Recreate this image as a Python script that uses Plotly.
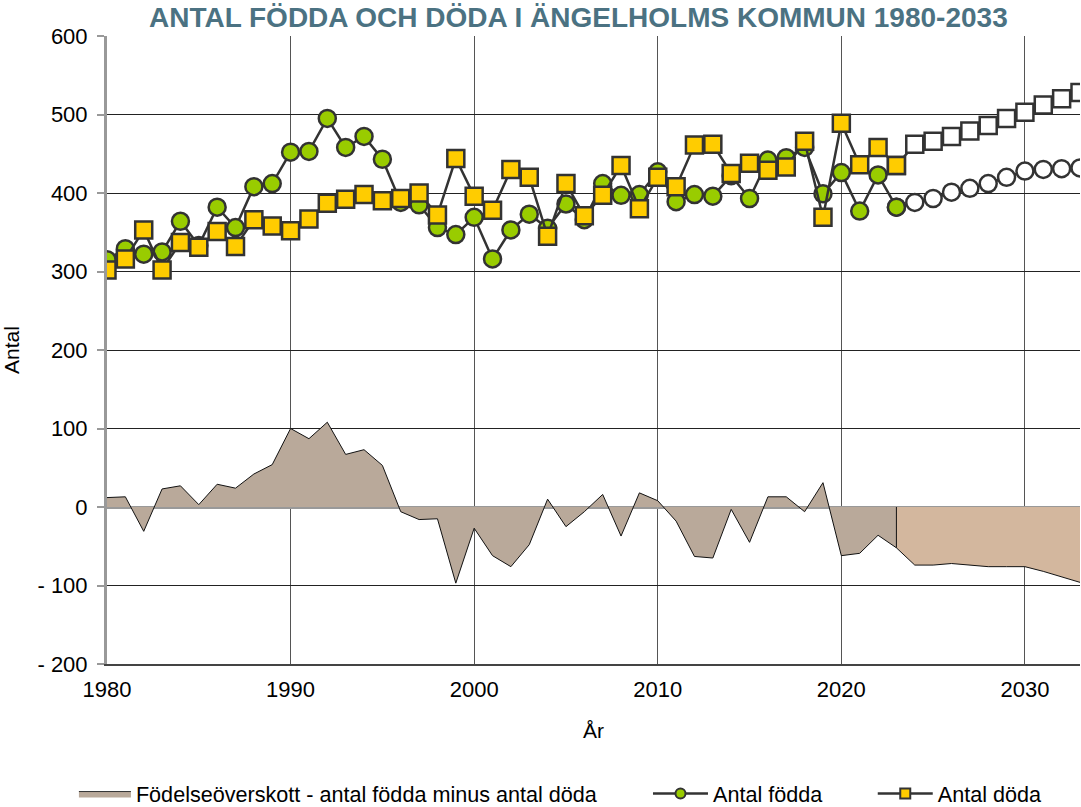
import plotly.graph_objects as go

years_hist = list(range(1980, 2024))
born_hist = [315, 329, 322, 325, 364, 333, 382, 356, 408, 412,
             452, 453, 495, 458, 472, 443, 388, 385, 356, 347,
             369, 316, 353, 373, 355, 386, 366, 412, 397, 398,
             427, 389, 398, 396, 422, 393, 442, 445, 458, 399,
             426, 377, 423, 382]
deaths_hist = [302, 316, 353, 302, 337, 331, 351, 332, 366, 358,
               352, 367, 387, 392, 398, 390, 393, 400, 372, 444,
               396, 378, 430, 420, 345, 412, 371, 397, 435, 380,
               420, 408, 461, 462, 425, 438, 429, 433, 466, 369,
               489, 436, 458, 435]
surplus_hist = [12, 13, -31, 23, 27, 3, 29, 24, 42, 54,
                100, 87, 108, 67, 73, 53, -6, -16, -15, -97,
                -27, -62, -76, -48, 10, -25, -6, 16, -37, 18,
                8, -18, -63, -65, -3, -45, 13, 13, -6, 31,
                -62, -59, -36, -52]

years_fc = list(range(2024, 2034))
born_fc = [388, 393, 401, 406, 412, 420, 428, 430, 431, 432]
deaths_fc = [462, 466, 472, 479, 486, 495, 503, 512, 520, 528]
surplus_fc = [-74, -74, -72, -74, -76, -76, -76, -82, -89, -96]

y_ticks = [-200, -100, 0, 100, 200, 300, 400, 500, 600]
y_ticktext = ["- 200", "- 100", "0", "100", "200", "300", "400", "500", "600"]
x_ticks = [1980, 1990, 2000, 2010, 2020, 2030]

title_text = "ANTAL FÖDDA OCH DÖDA I ÄNGELHOLMS KOMMUN 1980-2033"
name_surplus = "Födelseöverskott - antal födda minus antal döda"
name_born = "Antal födda"
name_deaths = "Antal döda"

FONT = "Liberation Sans, Arial, sans-serif"
FS = 21
FS_TICK = 22
FS_LEG = 21.6
LINE = "#333333"
AREA_HIST = "#B9A99A"
AREA_FC = "#D3B79E"
GREEN = "#99CC00"
YELLOW = "#FFCC00"

fig = go.Figure()

# historical surplus area
fig.add_trace(go.Scatter(
    x=years_hist, y=surplus_hist, mode="lines", fill="tozeroy",
    fillcolor=AREA_HIST, line=dict(color="#111111", width=1),
    name=name_surplus, showlegend=False))

# forecast surplus area (starts at last historical year)
fig.add_trace(go.Scatter(
    x=[years_hist[-1], years_hist[-1]] + years_fc,
    y=[0, surplus_hist[-1]] + surplus_fc,
    mode="lines", fill="tozeroy",
    fillcolor=AREA_FC, line=dict(color="#111111", width=1),
    showlegend=False, hoverinfo="skip"))

# forecast born / deaths (white markers)
fig.add_trace(go.Scatter(
    x=[years_hist[-1]] + years_fc, y=[born_hist[-1]] + born_fc,
    mode="lines+markers", line=dict(color=LINE, width=2.5),
    marker=dict(symbol="circle", size=17, color="white",
                line=dict(color=LINE, width=2.5)),
    showlegend=False))
fig.add_trace(go.Scatter(
    x=[years_hist[-1]] + years_fc, y=[deaths_hist[-1]] + deaths_fc,
    mode="lines+markers", line=dict(color=LINE, width=2.5),
    marker=dict(symbol="square", size=17, color="white",
                line=dict(color=LINE, width=2.5)),
    showlegend=False))

# historical born
fig.add_trace(go.Scatter(
    x=years_hist, y=born_hist, mode="lines+markers",
    line=dict(color=LINE, width=2.5),
    marker=dict(symbol="circle", size=17, color=GREEN,
                line=dict(color=LINE, width=2.5)),
    name=name_born, showlegend=False))

# historical deaths
fig.add_trace(go.Scatter(
    x=years_hist, y=deaths_hist, mode="lines+markers",
    line=dict(color=LINE, width=2.5),
    marker=dict(symbol="square", size=17, color=YELLOW,
                line=dict(color=LINE, width=2.5)),
    name=name_deaths, showlegend=False))

# legend-only entries (smaller symbols, as in the reference legend)
fig.add_trace(go.Scatter(
    x=[None], y=[None], mode="lines", fill="tozeroy",
    fillcolor=AREA_HIST, line=dict(color="#333333", width=1),
    name=name_surplus, legend="legend"))
fig.add_trace(go.Scatter(
    x=[None], y=[None], mode="lines+markers",
    line=dict(color=LINE, width=2.5),
    marker=dict(symbol="circle", size=10, color=GREEN,
                line=dict(color=LINE, width=2)),
    name=name_born, legend="legend2"))
fig.add_trace(go.Scatter(
    x=[None], y=[None], mode="lines+markers",
    line=dict(color=LINE, width=2.5),
    marker=dict(symbol="square", size=10, color=YELLOW,
                line=dict(color=LINE, width=2)),
    name=name_deaths, legend="legend3"))

leg_common = dict(orientation="h", yanchor="middle", y=-0.207,
                  xanchor="left", font=dict(family=FONT, size=FS_LEG, color="black"),
                  bgcolor="rgba(0,0,0,0)", borderwidth=0)

fig.update_layout(
    width=1081, height=807,
    paper_bgcolor="white", plot_bgcolor="white",
    margin=dict(l=107, r=1, t=36, b=143, autoexpand=False),
    font=dict(family=FONT, size=FS, color="black"),
    title=dict(text="<b>" + title_text + "</b>",
               font=dict(family=FONT, size=28, color="#4B7282"),
               x=0.535, xanchor="center", y=0.979, yanchor="middle"),
    legend=dict(x=-0.034, itemwidth=52, **leg_common),
    legend2=dict(x=0.556, itemwidth=55, **leg_common),
    legend3=dict(x=0.787, itemwidth=55, **leg_common),
    showlegend=True,
)

fig.update_xaxes(
    range=[1980, 2033], tickvals=x_ticks, showgrid=True,
    gridcolor="#555555", gridwidth=1,
    showline=True, linecolor="#444444", linewidth=2,
    ticks="", tickfont=dict(size=FS_TICK), ticklabelstandoff=5,
    title=dict(text="År", font=dict(size=FS), standoff=22),
    zeroline=False, automargin=False,
)
fig.update_yaxes(
    range=[-200, 600], tickvals=y_ticks, ticktext=y_ticktext,
    showgrid=True, gridcolor="#222222", gridwidth=1,
    showline=True, linecolor="#999999", linewidth=3,
    ticks="outside", ticklen=7, tickcolor="#999999", tickwidth=2,
    tickfont=dict(size=FS_TICK), ticklabelstandoff=5,
    zeroline=True, zerolinecolor="#999999", zerolinewidth=3,
    title=dict(text="Antal", font=dict(size=FS), standoff=14),
    layer="above traces", automargin=False,
)

fig.write_html("out.html",
               config={"displayModeBar": False},
               post_script="document.body.style.margin='0';document.body.style.overflow='hidden';")
